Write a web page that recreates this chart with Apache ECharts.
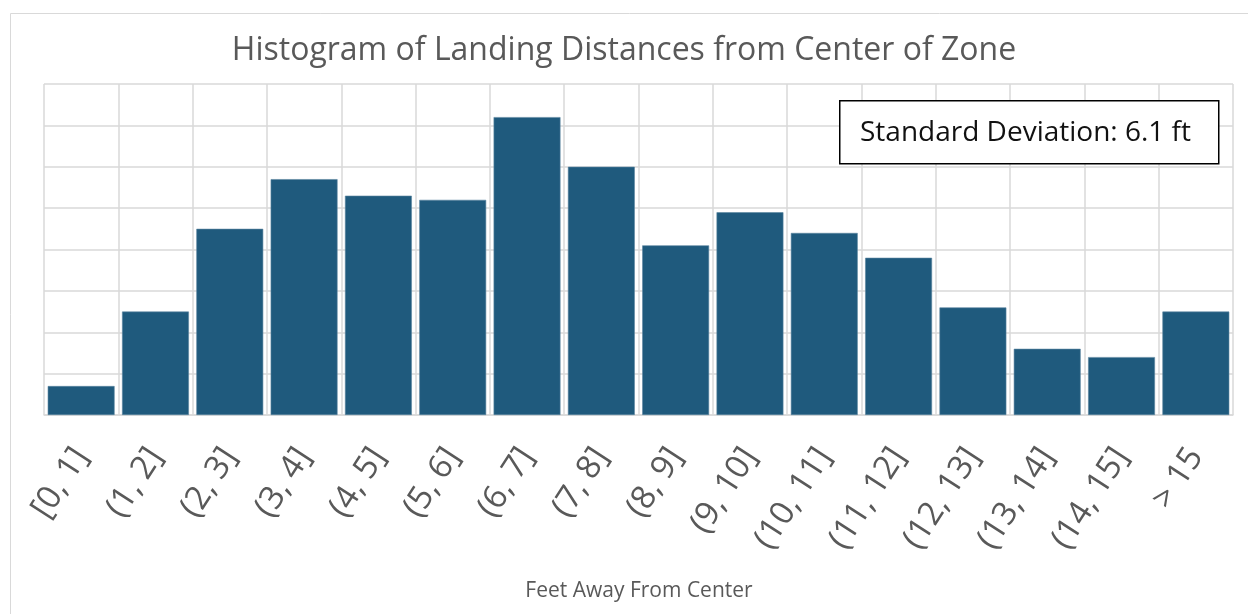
<!DOCTYPE html>
<html>
<head>
<meta charset="utf-8">
<script src="https://cdn.jsdelivr.net/npm/echarts@6/dist/echarts.min.js"></script>
<style>
  html, body { margin: 0; padding: 0; background: #fff; }
  #chart { width: 1248px; height: 614px; }
</style>
</head>
<body>
<div id="chart"></div>
<script>
// bins and counts
var categories = ['[0, 1]', '(1, 2]', '(2, 3]', '(3, 4]', '(4, 5]', '(5, 6]', '(6, 7]', '(7, 8]',
  '(8, 9]', '(9, 10]', '(10, 11]', '(11, 12]', '(12, 13]', '(13, 14]', '(14, 15]', '> 15'];
var counts = [7, 25, 45, 57, 53, 52, 72, 60, 41, 49, 44, 38, 26, 16, 14, 25];
var stdLabel = 'Standard Deviation: 6.1 ft';
var xName = 'Feet Away From Center';

var myChart = echarts.init(document.getElementById('chart'));

var option = {
  animation: false,
  textStyle: { fontFamily: 'Open Sans' },
  title: {
    text: 'Histogram of Landing Distances from Center of Zone',
    left: 'center',
    top: 30,
    textStyle: { color: '#595959', fontSize: 32, fontWeight: 'normal', fontFamily: 'Open Sans' }
  },
  grid: { left: 44, right: 15, top: 84, bottom: 199 },
  xAxis: {
    type: 'category',
    data: categories,
    axisLine: { lineStyle: { color: '#d9d9d9', width: 1.5 } },
    axisTick: { show: false },
    axisLabel: { rotate: 57, margin: 36, color: '#595959', fontSize: 33, interval: 0 },
    splitLine: { show: true, lineStyle: { color: '#d9d9d9', width: 1.5 } }
  },
  yAxis: {
    type: 'value',
    min: 0,
    max: 80,
    interval: 10,
    axisLabel: { show: false },
    axisLine: { show: false },
    axisTick: { show: false },
    splitLine: { lineStyle: { color: '#d9d9d9', width: 1.5 } }
  },
  series: [{
    type: 'bar',
    data: counts,
    barCategoryGap: '10%',
    itemStyle: { color: '#1f5a7d', borderColor: '#5a84a0', borderWidth: 0.6 }
  }],
  graphic: [
    {
      type: 'rect',
      left: 8, top: 11,
      shape: { width: 1260, height: 620 },
      style: { fill: 'none', stroke: '#d9d9d9', lineWidth: 1 },
      silent: true
    },
    {
      // x axis title, centred under the plot
      type: 'text',
      x: 639, y: 591,
      style: { text: xName, fill: '#595959', font: '21px "Open Sans"', textAlign: 'center', textVerticalAlign: 'middle' }
    },
    {
      type: 'rect',
      left: 839, top: 100,
      shape: { width: 379, height: 63 },
      style: { fill: '#fff', stroke: '#000', lineWidth: 1.5 },
      z: 100
    },
    {
      type: 'text',
      left: 860, top: 119,
      style: { text: stdLabel, fill: '#111', font: '28px "Open Sans"' },
      z: 101
    }
  ]
};

myChart.setOption(option);
</script>
</body>
</html>
